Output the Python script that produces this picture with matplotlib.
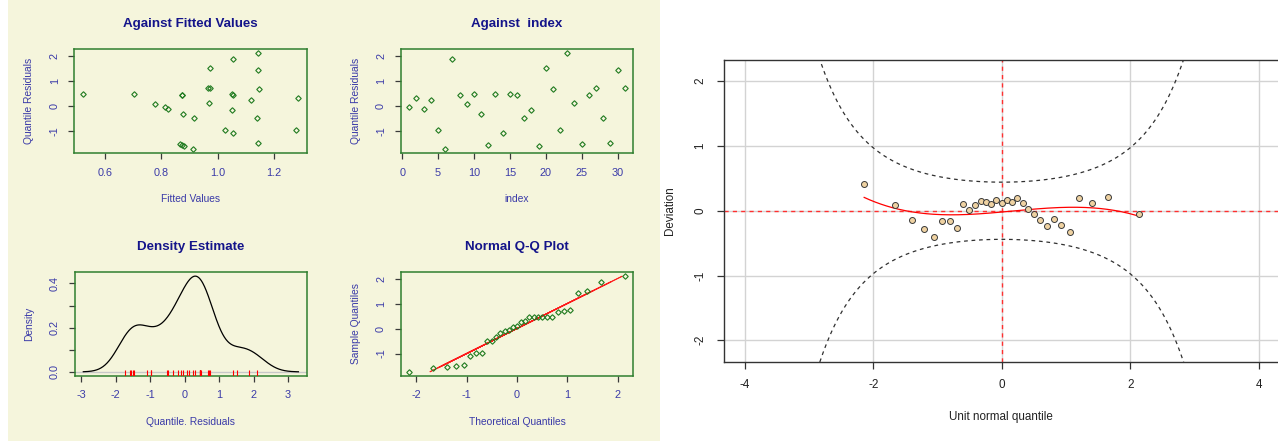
import math
import numpy as np
import matplotlib
matplotlib.use("Agg")
import matplotlib.pyplot as plt
from matplotlib.collections import LineCollection
from matplotlib.patches import Rectangle

plt.rcParams['font.family'] = ['Liberation Sans', 'DejaVu Sans']

# Normalized quantile residuals, in observation order
residuals = [-0.059, 0.296, -0.111, 0.246, -0.972, -1.734, 1.872, 0.448, 0.079, 0.462,
             -0.334, -1.550, 0.452, -1.090, 0.456, 0.447, -0.502, -0.185, -1.579, 1.519,
             0.673, -0.962, 2.095, 0.118, -1.499, 0.441, 0.704, -0.496, -1.464, 1.407, 0.722]
# Fitted values of the model, same order
fitted_values = [0.812, 1.286, 0.824, 1.117, 1.025, 0.911, 1.053, 0.873, 0.776, 0.521,
                 0.876, 0.873, 0.704, 1.053, 1.050, 0.873, 0.914, 1.050, 0.881, 0.972,
                 1.147, 1.279, 1.141, 0.967, 0.864, 1.053, 0.972, 1.139, 1.143, 1.141, 0.966]
# Unit normal scores for the ordered sample (n = 31)
normal_scores = [-2.141, -1.661, -1.401, -1.211, -1.057, -0.925, -0.807, -0.700, -0.600,
                 -0.506, -0.416, -0.329, -0.245, -0.162, -0.081, 0.0, 0.081, 0.162, 0.245,
                 0.329, 0.416, 0.506, 0.600, 0.700, 0.807, 0.925, 1.057, 1.211, 1.401,
                 1.661, 2.141]

fitted_ticks = [0.6, 0.8, 1.0, 1.2]
fitted_ticklabels = ['0.6', '0.8', '1.0', '1.2']
resid_ticks = [-1, 0, 1, 2]
index_ticks = [0, 5, 10, 15, 20, 25, 30]
density_xticks = [-3, -2, -1, 0, 1, 2, 3]
density_yticks = [0.0, 0.1, 0.2, 0.3, 0.4]
density_yticklabels = ['0.0', '', '0.2', '', '0.4']
qq_xticks = [-2, -1, 0, 1, 2]
worm_xticks = [-4, -2, 0, 2, 4]
worm_yticks = [-2, -1, 0, 1, 2]

BEIGE = '#F5F5DC'
BOX = '#2F7F2F'
PTS = '#1F7A1F'
LAB = '#3A3AA8'
TITLE = '#14148A'

W, H = 1278, 441
fig = plt.figure(figsize=(W / 100, H / 100), dpi=100)
fig.patches.append(Rectangle((8 / W, 0), (660 - 8) / W, 1, transform=fig.transFigure,
                             facecolor=BEIGE, edgecolor='none', zorder=-10))


def box(l, t, r, b):
    return [l / W, 1 - b / H, (r - l) / W, (b - t) / H]


def ftext(x, y, s, **kw):
    fig.text(x / W, 1 - y / H, s, ha='center', va='center', **kw)


def pad_range(lo, hi, frac=0.04):
    d = (hi - lo) * frac
    return lo - d, hi + d


def style_panel(ax, xt, yt, xtl=None, ytl=None):
    ax.set_facecolor(BEIGE)
    for s in ax.spines.values():
        s.set_color(BOX)
        s.set_linewidth(1.1)
    ax.set_xticks(xt)
    ax.set_yticks(yt)
    ax.set_xticklabels(xtl if xtl is not None else [f'{v:g}' for v in xt])
    ax.set_yticklabels(ytl if ytl is not None else [f'{v:g}' for v in yt])
    ax.tick_params(length=4.3, width=0.9, color='#3A3A3A', labelcolor=LAB,
                   labelsize=7.8, pad=6.2)
    ax.tick_params(axis='y', labelrotation=90)
    for t in ax.get_yticklabels():
        t.set_va('center')


res = np.array(residuals)
fit = np.array(fitted_values)
idx = np.arange(1, len(res) + 1)
srt = np.sort(res)
nsc = np.array(normal_scores)

# --- Against fitted values
ax1 = fig.add_axes(box(74.3, 49.3, 307, 153.3))
ax1.plot(fit, res, linestyle='none', marker='D', ms=2.8, mfc='none', mec=PTS, mew=0.8)
ax1.set_xlim(*pad_range(fit.min(), fit.max()))
ax1.set_ylim(*pad_range(res.min(), res.max()))
style_panel(ax1, fitted_ticks, resid_ticks, fitted_ticklabels)

# --- Against index
ax2 = fig.add_axes(box(400.7, 49.3, 633.3, 153.3))
ax2.plot(idx, res, linestyle='none', marker='D', ms=2.8, mfc='none', mec=PTS, mew=0.8)
ax2.set_xlim(*pad_range(idx.min(), idx.max()))
ax2.set_ylim(*pad_range(res.min(), res.max()))
style_panel(ax2, index_ticks, resid_ticks)

# --- Density estimate (Gaussian kernel, nrd0 bandwidth)
q1, q3 = np.percentile(res, [25, 75])
bw = 0.9 * min(res.std(ddof=1), (q3 - q1) / 1.34) * len(res) ** (-0.2)
gx = np.linspace(res.min() - 3 * bw, res.max() + 3 * bw, 512)
gy = np.exp(-0.5 * ((gx[:, None] - res[None, :]) / bw) ** 2).sum(axis=1) / (len(res) * bw * math.sqrt(2 * math.pi))
ax3 = fig.add_axes(box(74.7, 272.3, 307, 375.7))
ax3.axhline(0, color='#C8C8C8', lw=1.0, zorder=1)
ax3.plot(gx, gy, color='black', lw=0.9, zorder=3)
ax3.vlines(res, 0.0, 0.055, transform=ax3.get_xaxis_transform(), colors='red', lw=0.8, zorder=4)
ax3.set_xlim(*pad_range(gx.min(), gx.max()))
ax3.set_ylim(*pad_range(0, gy.max()))
style_panel(ax3, density_xticks, density_yticks, None, density_yticklabels)

# --- Normal Q-Q plot
ax4 = fig.add_axes(box(400.7, 272.3, 633.3, 375.7))
ax4.plot(nsc, srt, linestyle='none', marker='D', ms=2.8, mfc='none', mec=PTS, mew=0.8, zorder=3)
segs = [[(res[i], res[i]), (res[i + 1], res[i + 1])] for i in range(len(res) - 1)]
ax4.add_collection(LineCollection(segs, colors='#FF1A1A', linewidths=0.7, zorder=2))
ax4.set_xlim(*pad_range(nsc.min(), nsc.max()))
ax4.set_ylim(*pad_range(srt.min(), srt.max()))
style_panel(ax4, qq_xticks, resid_ticks)

# panel titles and axis labels
tkw = dict(color=TITLE, fontsize=9.6, fontweight='bold')
lkw = dict(color=LAB, fontsize=7.4)
ftext(190.7, 24, 'Against Fitted Values', **tkw)
ftext(517, 24, 'Against  index', **tkw)
ftext(190.9, 246.7, 'Density Estimate', **tkw)
ftext(517, 246.7, 'Normal Q-Q Plot', **tkw)
ftext(190.7, 199, 'Fitted Values', **lkw)
ftext(517, 199, 'index', **lkw)
ftext(190.9, 422.3, 'Quantile. Residuals', **lkw)
ftext(517, 422.3, 'Theoretical Quantiles', **lkw)
ftext(29.3, 101.3, 'Quantile Residuals', rotation=90, **lkw)
ftext(355.7, 101.3, 'Quantile Residuals', rotation=90, **lkw)
ftext(29.3, 324, 'Density', rotation=90, **lkw)
ftext(355.7, 324, 'Sample Quantiles', rotation=90, **lkw)

# --- Worm plot
dev = srt - nsc
ax5 = fig.add_axes(box(724.2, 60, 1279.2, 361.5))
ax5.set_facecolor('white')
lim_x = 4.0
lim_y = 12 * math.sqrt(1 / len(res))
ax5.set_xlim(-lim_x * 1.08, lim_x * 1.08)
ax5.set_ylim(-lim_y * 1.08, lim_y * 1.08)
for v in worm_xticks:
    ax5.axvline(v, color='#D3D3D3', lw=1.0, zorder=0)
for v in worm_yticks:
    ax5.axhline(v, color='#D3D3D3', lw=1.0, zorder=0)
ax5.axvline(0, color='#FF3030', lw=1.0, dashes=(3, 3), zorder=1)
ax5.axhline(0, color='#FF3030', lw=1.0, dashes=(3, 3), zorder=1)

z = np.linspace(-lim_x * 1.08, lim_x * 1.08, 2000)
p = np.array([0.5 * (1 + math.erf(v / math.sqrt(2))) for v in z])
dens = np.exp(-0.5 * z ** 2) / math.sqrt(2 * math.pi)
se = np.sqrt(p * (1 - p) / len(res)) / dens
band = 1.959964 * se
ax5.plot(z, band, color='#303030', lw=0.9, dashes=(3, 3), zorder=2)
ax5.plot(z, -band, color='#303030', lw=0.9, dashes=(3, 3), zorder=2)

coef = np.polyfit(nsc, dev, 3)
xx = np.linspace(nsc.min(), nsc.max(), 200)
ax5.plot(xx, np.polyval(coef, xx), color='red', lw=0.9, zorder=3)
ax5.plot(nsc, dev, linestyle='none', marker='o', ms=4.3, mfc='#EFD2A2', mec='#3A3A3A',
         mew=0.7, zorder=4)

for s in ax5.spines.values():
    s.set_color('#333333')
    s.set_linewidth(1.0)
ax5.set_xticks(worm_xticks)
ax5.set_yticks(worm_yticks)
ax5.set_xticklabels([f'{v:g}' for v in worm_xticks])
ax5.set_yticklabels([f'{v:g}' for v in worm_yticks])
ax5.tick_params(length=4.7, width=0.9, color='#333333', labelcolor='#222222',
                labelsize=8.4, pad=8.0)
ax5.tick_params(axis='y', labelrotation=90, pad=8.0)
for t in ax5.get_yticklabels():
    t.set_va('center')

ftext(1001, 417, 'Unit normal quantile', color='#222222', fontsize=8.4)
ftext(669.8, 210.6, 'Deviation', color='#222222', fontsize=8.4, rotation=90)

fig.savefig('out.png', dpi=100, facecolor='white')
